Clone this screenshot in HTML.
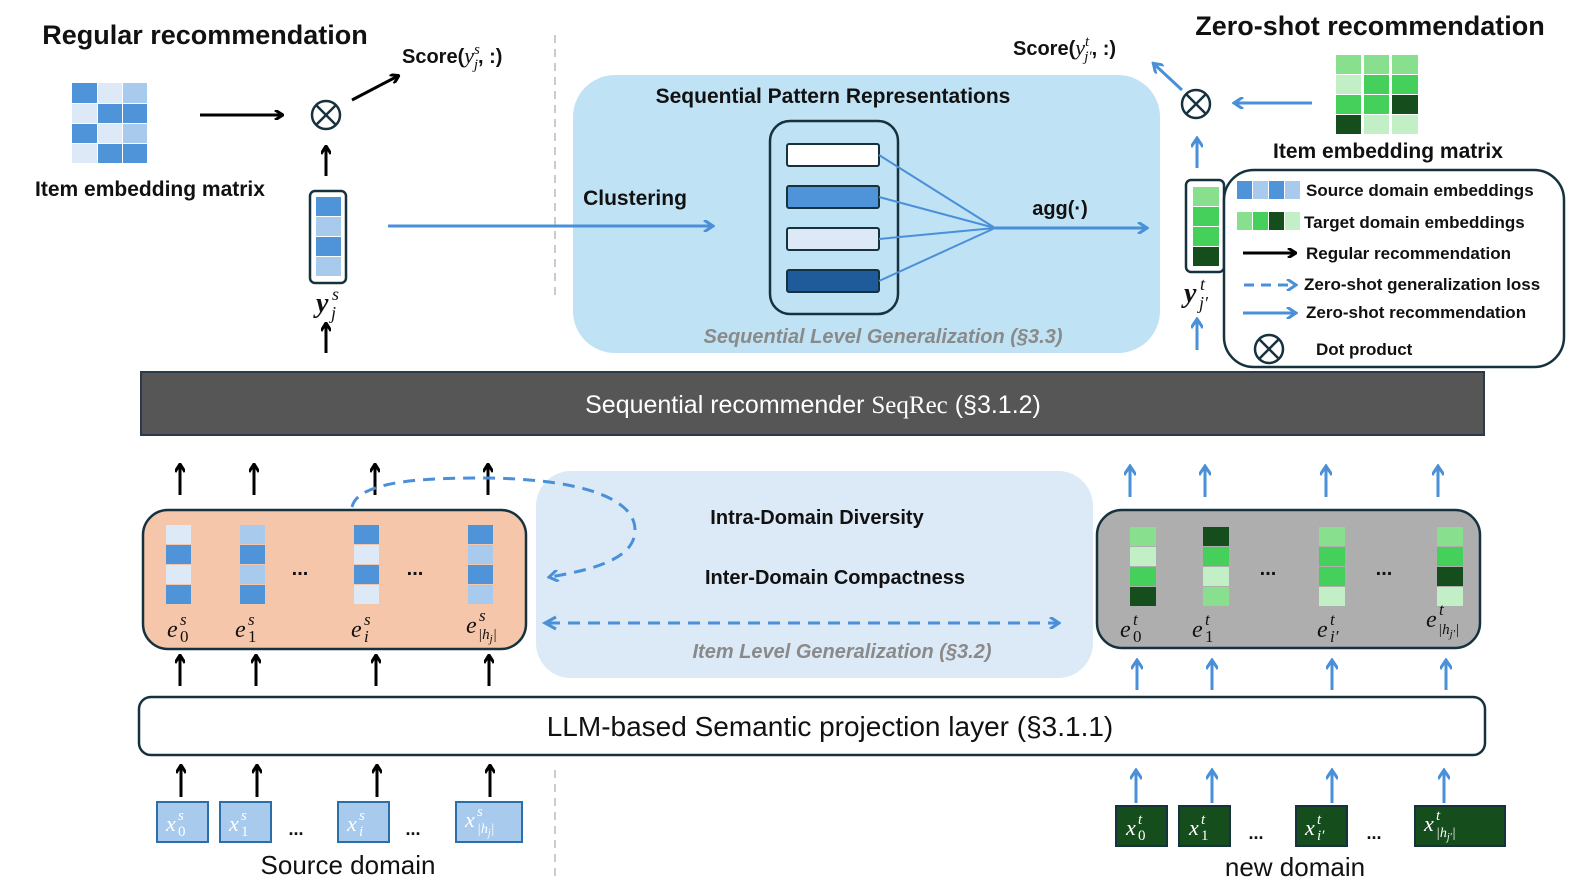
<!DOCTYPE html>
<html><head><meta charset="utf-8"><style>
html,body{margin:0;padding:0;background:#fff;}
svg{display:block;}
.t{font-family:"Liberation Sans",sans-serif;font-weight:bold;fill:#111;}
.m{font-family:"Liberation Serif",serif;font-style:italic;fill:#111;}
.g{font-family:"Liberation Sans",sans-serif;font-style:italic;font-weight:bold;fill:#8a8a8a;}
</style></head><body>
<svg width="1578" height="888" viewBox="0 0 1578 888" xmlns="http://www.w3.org/2000/svg">
<defs>
<marker id="ak" markerWidth="10" markerHeight="10" refX="8" refY="5" orient="auto" markerUnits="userSpaceOnUse"><path d="M1,0 L9,5 L1,10" fill="none" stroke="#000" stroke-width="3"/></marker>
<marker id="ab" markerWidth="12" markerHeight="12" refX="9" refY="6" orient="auto" markerUnits="userSpaceOnUse"><path d="M1,0 L10,6 L1,12" fill="none" stroke="#4a90d9" stroke-width="3"/></marker>
</defs>
<line x1="555" y1="35" x2="555" y2="300" stroke="#ccc" stroke-width="2" stroke-dasharray="8,6"/>
<line x1="555" y1="770" x2="555" y2="880" stroke="#ccc" stroke-width="2" stroke-dasharray="8,6"/>

<text x="205" y="44" class="t" font-size="27" text-anchor="middle">Regular recommendation</text>
<g>
<rect x="72" y="83" width="25" height="20" fill="#4f94d8"/><rect x="98" y="83" width="24" height="20" fill="#dde9f6"/><rect x="123" y="83" width="24" height="20" fill="#a8caec"/>
<rect x="72" y="104" width="25" height="19" fill="#dde9f6"/><rect x="98" y="104" width="24" height="19" fill="#4f94d8"/><rect x="123" y="104" width="24" height="19" fill="#4f94d8"/>
<rect x="72" y="124" width="25" height="19" fill="#4f94d8"/><rect x="98" y="124" width="24" height="19" fill="#dde9f6"/><rect x="123" y="124" width="24" height="19" fill="#a8caec"/>
<rect x="72" y="144" width="25" height="19" fill="#dde9f6"/><rect x="98" y="144" width="24" height="19" fill="#4f94d8"/><rect x="123" y="144" width="24" height="19" fill="#4f94d8"/>
</g>
<text x="150" y="196" class="t" font-size="21" text-anchor="middle">Item embedding matrix</text>
<line x1="200" y1="115" x2="282" y2="115" stroke="#000" stroke-width="3" marker-end="url(#ak)"/>
<circle cx="326" cy="115" r="14" fill="none" stroke="#16323f" stroke-width="2.5"/>
<line x1="316" y1="105" x2="336" y2="125" stroke="#16323f" stroke-width="2.5"/><line x1="336" y1="105" x2="316" y2="125" stroke="#16323f" stroke-width="2.5"/>
<line x1="352" y1="100" x2="398" y2="76" stroke="#000" stroke-width="3" marker-end="url(#ak)"/>
<text x="402" y="63" class="t" font-size="20">Score(<tspan class="m" font-weight="normal" font-size="22">y</tspan><tspan class="m" font-size="15" dy="-9" font-weight="normal">s</tspan><tspan class="m" font-size="15" dx="-6" dy="15" font-weight="normal">j</tspan><tspan dy="-6">, :)</tspan></text>
<line x1="326" y1="176" x2="326" y2="147" stroke="#000" stroke-width="3" marker-end="url(#ak)"/>
<rect x="310" y="191" width="36" height="92" rx="5" fill="#fff" stroke="#16323f" stroke-width="2.5"/>
<rect x="316" y="197" width="25" height="19" fill="#4f94d8"/><rect x="316" y="217" width="25" height="19" fill="#a8caec"/><rect x="316" y="237" width="25" height="19" fill="#4f94d8"/><rect x="316" y="257" width="25" height="19" fill="#a8caec"/>
<text x="316" y="312" class="m" font-size="28" font-weight="bold">y</text><text x="332" y="300" class="m" font-size="18">s</text><text x="331" y="319" class="m" font-size="18">j</text>
<line x1="326" y1="353" x2="326" y2="324" stroke="#000" stroke-width="3" marker-end="url(#ak)"/>

<rect x="573" y="75" width="587" height="278" rx="42" fill="#bfe2f4"/>
<line x1="388" y1="226" x2="712" y2="226" stroke="#4a90d9" stroke-width="3" marker-end="url(#ab)"/>
<text x="833" y="103" class="t" font-size="21" text-anchor="middle">Sequential Pattern Representations</text>
<text x="635" y="205" class="t" font-size="21" text-anchor="middle">Clustering</text>
<rect x="770" y="121" width="128" height="193" rx="20" fill="#bfe2f4" stroke="#16323f" stroke-width="2.5"/>
<rect x="787" y="144" width="92" height="22" rx="2" fill="#fff" stroke="#16323f" stroke-width="2"/>
<rect x="787" y="186" width="92" height="22" rx="2" fill="#4f94d8" stroke="#16323f" stroke-width="2"/>
<rect x="787" y="228" width="92" height="22" rx="2" fill="#dde9f6" stroke="#16323f" stroke-width="2"/>
<rect x="787" y="270" width="92" height="22" rx="2" fill="#1f5a9a" stroke="#16323f" stroke-width="2"/>
<g stroke="#4a90d9" stroke-width="2"><line x1="879" y1="155" x2="995" y2="228"/><line x1="879" y1="197" x2="995" y2="228"/><line x1="879" y1="239" x2="995" y2="228"/><line x1="879" y1="281" x2="995" y2="228"/></g>
<line x1="995" y1="228" x2="1146" y2="228" stroke="#4a90d9" stroke-width="3" marker-end="url(#ab)"/>
<text x="1060" y="215" class="t" font-size="20" text-anchor="middle">agg(·)</text>
<text x="883" y="343" class="g" font-size="20" text-anchor="middle">Sequential Level Generalization (§3.3)</text>

<text x="1370" y="35" class="t" font-size="27" text-anchor="middle">Zero-shot recommendation</text>
<text x="1013" y="55" class="t" font-size="20">Score(<tspan class="m" font-weight="normal" font-size="22">y</tspan><tspan class="m" font-size="15" dy="-9" font-weight="normal">t</tspan><tspan class="m" font-size="15" dx="-5" dy="15" font-weight="normal">j′</tspan><tspan dy="-6">, :)</tspan></text>
<circle cx="1196" cy="104" r="14" fill="none" stroke="#16323f" stroke-width="2.5"/>
<line x1="1186" y1="94" x2="1206" y2="114" stroke="#16323f" stroke-width="2.5"/><line x1="1206" y1="94" x2="1186" y2="114" stroke="#16323f" stroke-width="2.5"/>
<line x1="1182" y1="90" x2="1154" y2="64" stroke="#4a90d9" stroke-width="3" marker-end="url(#ab)"/>
<line x1="1312" y1="103" x2="1235" y2="103" stroke="#4a90d9" stroke-width="3" marker-end="url(#ab)"/>
<g>
<rect x="1336" y="55" width="25" height="19" fill="#88e08f"/><rect x="1364" y="55" width="25" height="19" fill="#88e08f"/><rect x="1392" y="55" width="26" height="19" fill="#88e08f"/>
<rect x="1336" y="75" width="25" height="19" fill="#c3efc6"/><rect x="1364" y="75" width="25" height="19" fill="#44d05a"/><rect x="1392" y="75" width="26" height="19" fill="#44d05a"/>
<rect x="1336" y="95" width="25" height="19" fill="#44d05a"/><rect x="1364" y="95" width="25" height="19" fill="#44d05a"/><rect x="1392" y="95" width="26" height="19" fill="#154d1c"/>
<rect x="1336" y="115" width="25" height="19" fill="#154d1c"/><rect x="1364" y="115" width="25" height="19" fill="#c3efc6"/><rect x="1392" y="115" width="26" height="19" fill="#c3efc6"/>
</g>
<text x="1388" y="158" class="t" font-size="21" text-anchor="middle">Item embedding matrix</text>
<line x1="1197" y1="168" x2="1197" y2="139" stroke="#4a90d9" stroke-width="3" marker-end="url(#ab)"/>
<rect x="1186" y="180" width="38" height="92" rx="5" fill="#fff" stroke="#16323f" stroke-width="2.5"/>
<rect x="1193" y="187" width="26" height="19" fill="#88e08f"/><rect x="1193" y="207" width="26" height="19" fill="#44d05a"/><rect x="1193" y="227" width="26" height="19" fill="#44d05a"/><rect x="1193" y="247" width="26" height="19" fill="#154d1c"/>
<text x="1184" y="302" class="m" font-size="28" font-weight="bold">y</text><text x="1200" y="290" class="m" font-size="18">t</text><text x="1199" y="309" class="m" font-size="18">j′</text>
<line x1="1197" y1="350" x2="1197" y2="320" stroke="#4a90d9" stroke-width="3" marker-end="url(#ab)"/>

<rect x="1224" y="170" width="340" height="197" rx="30" fill="#fff" stroke="#16323f" stroke-width="2.5"/>
<rect x="1237" y="181" width="15" height="18" fill="#4f94d8"/><rect x="1253" y="181" width="15" height="18" fill="#a8caec"/><rect x="1269" y="181" width="15" height="18" fill="#4f94d8"/><rect x="1285" y="181" width="15" height="18" fill="#a8caec"/>
<text x="1306" y="196" class="t" font-size="17" font-weight="normal">Source domain embeddings</text>
<rect x="1237" y="212" width="15" height="18" fill="#88e08f"/><rect x="1253" y="212" width="15" height="18" fill="#44d05a"/><rect x="1269" y="212" width="15" height="18" fill="#154d1c"/><rect x="1285" y="212" width="15" height="18" fill="#c3efc6"/>
<text x="1304" y="228" class="t" font-size="17" font-weight="normal">Target domain embeddings</text>
<line x1="1243" y1="253" x2="1295" y2="253" stroke="#000" stroke-width="3" marker-end="url(#ak)"/>
<text x="1306" y="259" class="t" font-size="17" font-weight="normal">Regular recommendation</text>
<line x1="1244" y1="285" x2="1295" y2="285" stroke="#4a90d9" stroke-width="3" stroke-dasharray="10,7" marker-end="url(#ab)"/>
<text x="1304" y="290" class="t" font-size="17" font-weight="normal">Zero-shot generalization loss</text>
<line x1="1243" y1="313" x2="1295" y2="313" stroke="#4a90d9" stroke-width="3" marker-end="url(#ab)"/>
<text x="1306" y="318" class="t" font-size="17" font-weight="normal">Zero-shot recommendation</text>
<circle cx="1269" cy="349" r="14" fill="none" stroke="#16323f" stroke-width="2.5"/>
<line x1="1259" y1="339" x2="1279" y2="359" stroke="#16323f" stroke-width="2.5"/><line x1="1279" y1="339" x2="1259" y2="359" stroke="#16323f" stroke-width="2.5"/>
<text x="1316" y="355" class="t" font-size="17" font-weight="normal">Dot product</text>

<rect x="141" y="372" width="1343" height="63" fill="#565656" stroke="#2b3a4a" stroke-width="2"/>
<text x="813" y="413" font-family="Liberation Sans,sans-serif" font-size="25" fill="#fff" text-anchor="middle">Sequential recommender <tspan font-family="Liberation Serif,serif">SeqRec</tspan>  (§3.1.2)</text>

<g stroke="#000" stroke-width="3">
<line x1="180" y1="495" x2="180" y2="465" marker-end="url(#ak)"/><line x1="254" y1="495" x2="254" y2="465" marker-end="url(#ak)"/><line x1="375" y1="495" x2="375" y2="465" marker-end="url(#ak)"/><line x1="488" y1="495" x2="488" y2="465" marker-end="url(#ak)"/>
</g>
<g stroke="#4a90d9" stroke-width="3">
<line x1="1130" y1="497" x2="1130" y2="467" marker-end="url(#ab)"/><line x1="1205" y1="497" x2="1205" y2="467" marker-end="url(#ab)"/><line x1="1326" y1="497" x2="1326" y2="467" marker-end="url(#ab)"/><line x1="1438" y1="497" x2="1438" y2="467" marker-end="url(#ab)"/>
</g>

<rect x="536" y="471" width="557" height="207" rx="35" fill="#dce9f6"/>
<text x="817" y="524" class="t" font-size="20" text-anchor="middle">Intra-Domain Diversity</text>
<text x="835" y="584" class="t" font-size="20" text-anchor="middle">Inter-Domain Compactness</text>
<line x1="548" y1="623" x2="1058" y2="623" stroke="#4a90d9" stroke-width="3" stroke-dasharray="12,8" marker-end="url(#ab)"/>
<path d="M556,617 L545,623 L556,629" fill="none" stroke="#4a90d9" stroke-width="3"/>
<text x="842" y="658" class="g" font-size="20" text-anchor="middle">Item Level Generalization (§3.2)</text>
<path d="M352,507 C358,480 430,478 480,478 C570,478 635,495 635,530 C635,560 590,570 550,577" fill="none" stroke="#4a90d9" stroke-width="3" stroke-dasharray="12,8" marker-end="url(#ab)"/>

<rect x="143" y="510" width="383" height="139" rx="25" fill="#f5c6a9" stroke="#16323f" stroke-width="2.5"/>
<g>
<rect x="166" y="525" width="25" height="19" fill="#dde9f6"/><rect x="166" y="545" width="25" height="19" fill="#4f94d8"/><rect x="166" y="565" width="25" height="19" fill="#dde9f6"/><rect x="166" y="585" width="25" height="19" fill="#4f94d8"/>
<rect x="240" y="525" width="25" height="19" fill="#a8caec"/><rect x="240" y="545" width="25" height="19" fill="#4f94d8"/><rect x="240" y="565" width="25" height="19" fill="#a8caec"/><rect x="240" y="585" width="25" height="19" fill="#4f94d8"/>
<rect x="354" y="525" width="25" height="19" fill="#4f94d8"/><rect x="354" y="545" width="25" height="19" fill="#dde9f6"/><rect x="354" y="565" width="25" height="19" fill="#4f94d8"/><rect x="354" y="585" width="25" height="19" fill="#dde9f6"/>
<rect x="468" y="525" width="25" height="19" fill="#4f94d8"/><rect x="468" y="545" width="25" height="19" fill="#a8caec"/><rect x="468" y="565" width="25" height="19" fill="#4f94d8"/><rect x="468" y="585" width="25" height="19" fill="#a8caec"/>
</g>
<text x="300" y="575" class="t" font-size="20" text-anchor="middle">...</text><text x="415" y="575" class="t" font-size="20" text-anchor="middle">...</text>
<g class="m" font-size="24">
<text x="167" y="637">e</text><text x="180" y="625" font-size="17">s</text><text x="180" y="642" font-size="17" font-style="normal">0</text>
<text x="235" y="637">e</text><text x="248" y="625" font-size="17">s</text><text x="248" y="642" font-size="17" font-style="normal">1</text>
<text x="351" y="637">e</text><text x="364" y="625" font-size="17">s</text><text x="364" y="642" font-size="17">i</text>
<text x="466" y="633">e</text><text x="479" y="621" font-size="17">s</text><text x="478" y="639" font-size="15">|h<tspan font-size="11" dy="3">j</tspan><tspan dy="-3">|</tspan></text>
</g>

<rect x="1097" y="510" width="383" height="138" rx="25" fill="#aeaeae" stroke="#16323f" stroke-width="2.5"/>
<g>
<rect x="1130" y="527" width="26" height="19" fill="#88e08f"/><rect x="1130" y="547" width="26" height="19" fill="#c3efc6"/><rect x="1130" y="567" width="26" height="19" fill="#44d05a"/><rect x="1130" y="587" width="26" height="19" fill="#154d1c"/>
<rect x="1203" y="527" width="26" height="19" fill="#154d1c"/><rect x="1203" y="547" width="26" height="19" fill="#44d05a"/><rect x="1203" y="567" width="26" height="19" fill="#c3efc6"/><rect x="1203" y="587" width="26" height="19" fill="#88e08f"/>
<rect x="1319" y="527" width="26" height="19" fill="#88e08f"/><rect x="1319" y="547" width="26" height="19" fill="#44d05a"/><rect x="1319" y="567" width="26" height="19" fill="#44d05a"/><rect x="1319" y="587" width="26" height="19" fill="#c3efc6"/>
<rect x="1437" y="527" width="26" height="19" fill="#88e08f"/><rect x="1437" y="547" width="26" height="19" fill="#44d05a"/><rect x="1437" y="567" width="26" height="19" fill="#154d1c"/><rect x="1437" y="587" width="26" height="19" fill="#c3efc6"/>
</g>
<text x="1268" y="575" class="t" font-size="20" text-anchor="middle">...</text><text x="1384" y="575" class="t" font-size="20" text-anchor="middle">...</text>
<g class="m" font-size="24">
<text x="1120" y="637">e</text><text x="1133" y="625" font-size="17">t</text><text x="1133" y="642" font-size="17" font-style="normal">0</text>
<text x="1192" y="637">e</text><text x="1205" y="625" font-size="17">t</text><text x="1205" y="642" font-size="17" font-style="normal">1</text>
<text x="1317" y="637">e</text><text x="1330" y="625" font-size="17">t</text><text x="1330" y="642" font-size="17">i′</text>
<text x="1426" y="627">e</text><text x="1439" y="615" font-size="17">t</text><text x="1438" y="634" font-size="15">|h<tspan font-size="11" dy="3">j′</tspan><tspan dy="-3">|</tspan></text>
</g>

<g stroke="#000" stroke-width="3">
<line x1="180" y1="686" x2="180" y2="656" marker-end="url(#ak)"/><line x1="256" y1="686" x2="256" y2="656" marker-end="url(#ak)"/><line x1="376" y1="686" x2="376" y2="656" marker-end="url(#ak)"/><line x1="489" y1="686" x2="489" y2="656" marker-end="url(#ak)"/>
</g>
<g stroke="#4a90d9" stroke-width="3">
<line x1="1137" y1="690" x2="1137" y2="661" marker-end="url(#ab)"/><line x1="1212" y1="690" x2="1212" y2="661" marker-end="url(#ab)"/><line x1="1332" y1="690" x2="1332" y2="661" marker-end="url(#ab)"/><line x1="1446" y1="690" x2="1446" y2="661" marker-end="url(#ab)"/>
</g>

<rect x="139" y="697" width="1346" height="58" rx="12" fill="#fff" stroke="#16323f" stroke-width="2.5"/>
<text x="830" y="736" font-family="Liberation Sans,sans-serif" font-size="28" fill="#111" text-anchor="middle">LLM-based Semantic projection layer (§3.1.1)</text>

<g stroke="#000" stroke-width="3">
<line x1="181" y1="797" x2="181" y2="766" marker-end="url(#ak)"/><line x1="257" y1="797" x2="257" y2="766" marker-end="url(#ak)"/><line x1="377" y1="797" x2="377" y2="766" marker-end="url(#ak)"/><line x1="490" y1="797" x2="490" y2="766" marker-end="url(#ak)"/>
</g>
<g stroke="#4a90d9" stroke-width="3">
<line x1="1136" y1="803" x2="1136" y2="771" marker-end="url(#ab)"/><line x1="1212" y1="803" x2="1212" y2="771" marker-end="url(#ab)"/><line x1="1332" y1="803" x2="1332" y2="771" marker-end="url(#ab)"/><line x1="1444" y1="803" x2="1444" y2="771" marker-end="url(#ab)"/>
</g>

<g fill="#a8caec" stroke="#2a6faa" stroke-width="2">
<rect x="157" y="802" width="51" height="40"/><rect x="220" y="802" width="51" height="40"/><rect x="338" y="802" width="51" height="40"/><rect x="456" y="802" width="66" height="40"/>
</g>
<g class="m" font-size="22">
<text x="166" y="831" fill="#fff" style="fill:#fff">x</text><text x="178" y="820" font-size="15" style="fill:#fff">s</text><text x="178" y="836" font-size="15" font-style="normal" style="fill:#fff">0</text>
<text x="229" y="831" style="fill:#fff">x</text><text x="241" y="820" font-size="15" style="fill:#fff">s</text><text x="241" y="836" font-size="15" font-style="normal" style="fill:#fff">1</text>
<text x="347" y="831" style="fill:#fff">x</text><text x="359" y="820" font-size="15" style="fill:#fff">s</text><text x="359" y="836" font-size="15" style="fill:#fff">i</text>
<text x="465" y="827" style="fill:#fff">x</text><text x="477" y="816" font-size="15" style="fill:#fff">s</text><text x="477" y="833" font-size="14" style="fill:#fff">|h<tspan font-size="10" dy="3">j</tspan><tspan dy="-3">|</tspan></text>
</g>
<text x="296" y="835" class="t" font-size="18" font-weight="normal" text-anchor="middle">...</text><text x="413" y="835" class="t" font-size="18" font-weight="normal" text-anchor="middle">...</text>
<text x="348" y="874" font-family="Liberation Sans,sans-serif" font-size="26" fill="#111" text-anchor="middle">Source domain</text>

<g fill="#154d1c" stroke="#16323f" stroke-width="2">
<rect x="1116" y="806" width="51" height="40"/><rect x="1179" y="806" width="51" height="40"/><rect x="1296" y="806" width="51" height="40"/><rect x="1415" y="806" width="90" height="40"/>
</g>
<g class="m" font-size="22">
<text x="1126" y="835" style="fill:#fff">x</text><text x="1138" y="824" font-size="15" style="fill:#fff">t</text><text x="1138" y="840" font-size="15" font-style="normal" style="fill:#fff">0</text>
<text x="1189" y="835" style="fill:#fff">x</text><text x="1201" y="824" font-size="15" style="fill:#fff">t</text><text x="1201" y="840" font-size="15" font-style="normal" style="fill:#fff">1</text>
<text x="1305" y="835" style="fill:#fff">x</text><text x="1317" y="824" font-size="15" style="fill:#fff">t</text><text x="1317" y="840" font-size="15" style="fill:#fff">i′</text>
<text x="1424" y="831" style="fill:#fff">x</text><text x="1436" y="820" font-size="15" style="fill:#fff">t</text><text x="1436" y="837" font-size="14" style="fill:#fff">|h<tspan font-size="10" dy="3">j′</tspan><tspan dy="-3">|</tspan></text>
</g>
<text x="1256" y="839" class="t" font-size="18" font-weight="normal" text-anchor="middle">...</text><text x="1374" y="839" class="t" font-size="18" font-weight="normal" text-anchor="middle">...</text>
<text x="1295" y="876" font-family="Liberation Sans,sans-serif" font-size="26" fill="#111" text-anchor="middle">new domain</text>
</svg>
</body></html>
